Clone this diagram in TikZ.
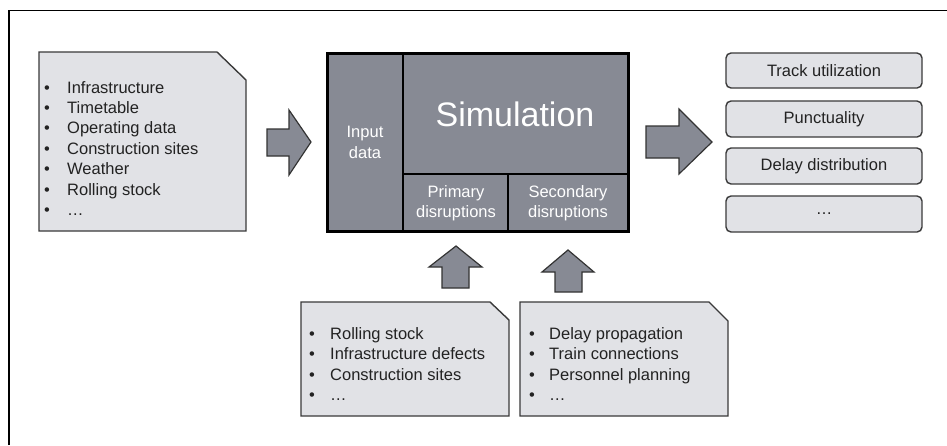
\documentclass[tikz,border=0pt]{standalone}
\usepackage{fontspec}
\setmainfont{Liberation Sans}
\begin{document}
\begin{tikzpicture}[x=1pt,y=-1pt,
  docbox/.style={fill=docgray,draw=edgegray,line width=1.4pt,line join=miter},
  blockarrow/.style={fill=simgray,draw=black!80,line width=1.2pt,line join=miter},
  resultbox/.style={fill=docgray,draw=edgegray,line width=1.4pt,rounded corners=5pt},
  itemtext/.style={anchor=base west,inner sep=0pt,font=\fontsize{16.5}{20}\selectfont,text=textdark},
  bullet/.style={anchor=base,inner sep=0pt,font=\fontsize{16.5}{20}\selectfont,text=textdark},
  boxtext/.style={inner sep=0pt,font=\fontsize{16.5}{20}\selectfont,text=textdark},
  simtext/.style={inner sep=0pt,text=white,align=center,font=\fontsize{16.5}{20.5}\selectfont}
]
\definecolor{docgray}{HTML}{E1E2E6}
\definecolor{edgegray}{HTML}{3A3A3A}
\definecolor{simgray}{HTML}{878A94}
\definecolor{textdark}{HTML}{222222}

\useasboundingbox (0,0) rectangle (947,445);
\fill[white] (0,0) rectangle (947,445);

% outer frame (top and left edges)
\draw[line width=1.6pt] (9,445) -- (9,10.5) -- (947,10.5);

% input document
\draw[docbox] (39,52) -- (217,52) -- (246,80) -- (246,231) -- (39,231) -- cycle;
\foreach \t [count=\i] in {Infrastructure,Timetable,Operating data,Construction sites,Weather,Rolling stock,\dots}
  {\node[bullet] (inb\i) at (47,93+20.4*\i-20.4) {•};
   \node[itemtext] (in\i) at (67,93+20.4*\i-20.4) {\t};}

% arrow into the simulation
\draw[blockarrow] (267,129) -- (289,129) -- (289,110) -- (311,142) -- (289,175) -- (289,156) -- (267,156) -- cycle;

% simulation block
\fill[simgray] (327,53) rectangle (628,231);
\draw[line width=2pt] (403,53) -- (403,231);
\draw[line width=2pt] (403,174) -- (628,174);
\draw[line width=2pt] (508,174) -- (508,231);
\draw[line width=3pt] (327,53) rectangle (628,231);
\node[simtext] (input) at (365,142.5) {Input\\data};
\node[inner sep=0pt,text=white,font=\fontsize{34}{40}\selectfont] (sim) at (515,114) {Simulation};
\node[simtext] (prim) at (456,203) {Primary\\disruptions};
\node[simtext] (sec) at (568,203) {Secondary\\disruptions};

% arrow out of the simulation
\draw[blockarrow] (646,126) -- (679,126) -- (679,109) -- (712,142) -- (679,174) -- (679,158) -- (646,158) -- cycle;

% results
\draw[resultbox] (726,53) rectangle (922,88);
\draw[resultbox] (726,101) rectangle (922,137);
\draw[resultbox] (726,148) rectangle (922,184);
\draw[resultbox] (726,196) rectangle (922,232);
\node[boxtext] (r1) at (824,70.5) {Track utilization};
\node[boxtext] (r2) at (824,119) {Punctuality};
\node[boxtext] (r3) at (824,166) {Delay distribution};
\node[boxtext] (r4) at (824,214) {\dots};

% arrows up into the disruption fields
\draw[blockarrow] (442,288) -- (442,267) -- (429,267) -- (456,246) -- (482,267) -- (469,267) -- (469,288) -- cycle;
\draw[blockarrow] (555,292) -- (555,272) -- (542,272) -- (568,250) -- (594,272) -- (582,272) -- (582,292) -- cycle;

% primary disruption sources
\draw[docbox] (301,302) -- (490,302) -- (509,320) -- (509,416) -- (301,416) -- cycle;
\foreach \t [count=\i] in {Rolling stock,Infrastructure defects,Construction sites,\dots}
  {\node[bullet] (pb\i) at (312,339+20.5*\i-20.5) {•};
   \node[itemtext] (p\i) at (330,339+20.5*\i-20.5) {\t};}

% secondary disruption sources
\draw[docbox] (520,302) -- (709,302) -- (728,321) -- (728,416) -- (520,416) -- cycle;
\foreach \t [count=\i] in {Delay propagation,Train connections,Personnel planning,\dots}
  {\node[bullet] (sb\i) at (532,339+20.5*\i-20.5) {•};
   \node[itemtext] (s\i) at (549,339+20.5*\i-20.5) {\t};}
\end{tikzpicture}
\end{document}
